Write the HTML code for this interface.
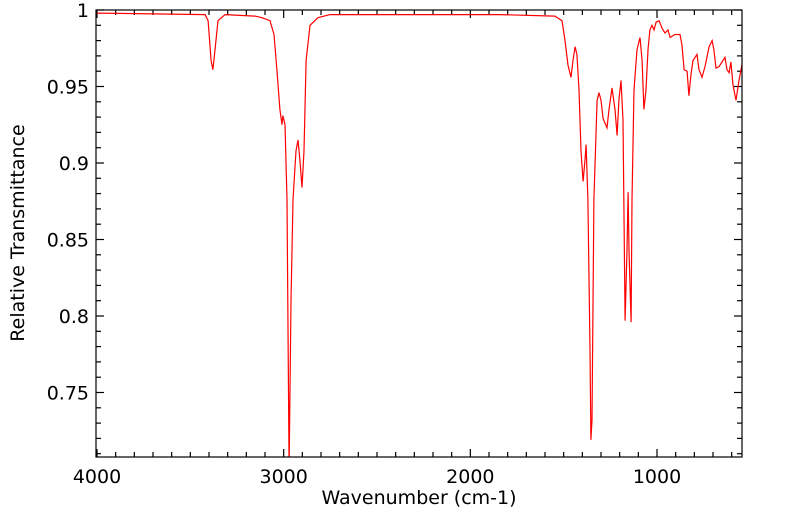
<!DOCTYPE html>
<html><head><meta charset="utf-8"><style>
html,body{margin:0;padding:0;background:#fff;}
svg{display:block;}
text{font-family:"DejaVu Sans","Liberation Sans",sans-serif;fill:#000;}
</style></head><body>
<svg id="chart" width="799" height="516" viewBox="0 0 799 516" xmlns="http://www.w3.org/2000/svg">
<defs><clipPath id="clip"><rect x="96" y="10" width="646" height="447"/></clipPath></defs>
<g id="ticks"></g>
<g id="labels"></g>
<path id="line" clip-path="url(#clip)" fill="none" stroke="#ff0000" stroke-width="1.2"/>
<rect x="96" y="10" width="646" height="447" fill="none" stroke="#000" stroke-width="1.2"/>
<text x="419" y="504" font-size="19" text-anchor="middle">Wavenumber (cm-1)</text>
<text transform="translate(24,233) rotate(-90)" font-size="19" text-anchor="middle">Relative Transmittance</text>
</svg>
<script>
const wavenumbers=[4000,3421,3405,3389,3379,3368,3352,3314,3154,3116,3073,3052,3036,3020,3009,3004,2993,2982,2971,2961,2950,2934,2923,2913,2902,2891,2880,2859,2816,2752,2377,1841,1547,1509,1493,1477,1461,1450,1439,1429,1418,1407,1396,1386,1380,1370,1359,1354,1348,1338,1321,1311,1300,1289,1268,1257,1241,1225,1214,1204,1193,1182,1171,1161,1155,1150,1139,1134,1123,1107,1091,1080,1070,1059,1048,1038,1027,1016,1005,989,973,957,941,930,904,877,866,855,839,829,818,807,786,775,759,743,721,705,695,684,668,652,636,625,614,604,593,577,561,545];
const transmittance=[0.998,0.997,0.993,0.967,0.961,0.974,0.993,0.997,0.996,0.995,0.993,0.984,0.961,0.935,0.925,0.931,0.925,0.876,0.700,0.810,0.876,0.908,0.915,0.902,0.884,0.908,0.967,0.990,0.995,0.997,0.997,0.997,0.996,0.993,0.980,0.964,0.956,0.967,0.976,0.971,0.948,0.908,0.888,0.902,0.912,0.876,0.778,0.719,0.732,0.876,0.941,0.946,0.941,0.929,0.923,0.935,0.949,0.935,0.918,0.941,0.954,0.928,0.797,0.843,0.881,0.843,0.796,0.876,0.948,0.974,0.982,0.967,0.935,0.948,0.974,0.987,0.990,0.987,0.992,0.993,0.988,0.985,0.987,0.982,0.984,0.984,0.977,0.961,0.960,0.944,0.958,0.967,0.971,0.961,0.956,0.963,0.976,0.980,0.974,0.962,0.963,0.966,0.969,0.961,0.959,0.966,0.951,0.941,0.954,0.964];
const xTickLabels=[4000,3000,2000,1000];
const yTickLabels=["0.75","0.8","0.85","0.9","0.95","1"];
const X0=96,X1=742,Y0=10,Y1=457;
const xMin=545,xMax=4000,yMin=0.708,yMax=1;
function sx(v){return 97+(4000-v)*0.18667;}
function sy(v){return 10+(1-v)*1530;}
const NS="http://www.w3.org/2000/svg";
let d="";
for(let i=0;i<wavenumbers.length;i++){d+=(i?"L":"M")+sx(wavenumbers[i]).toFixed(1)+","+sy(transmittance[i]).toFixed(1);}
document.getElementById('line').setAttribute('d',d);
const tg=document.getElementById('ticks'),lg=document.getElementById('labels');
function ln(x1,y1,x2,y2){const l=document.createElementNS(NS,'line');l.setAttribute('x1',x1);l.setAttribute('y1',y1);l.setAttribute('x2',x2);l.setAttribute('y2',y2);l.setAttribute('stroke','#000');l.setAttribute('stroke-width','1.2');


tg.appendChild(l);}
for(let w=4000;w>=xMin;w-=100){const x=sx(w),L=(w%1000===0)?8:5;ln(x,Y1,x,Y1-L);ln(x,Y0,x,Y0+L);}
for(let k=71;k<=100;k++){const v=k/100,y=sy(v),L=(k%5===0)?8:5;ln(X0,y,X0+L,y);ln(X1,y,X1-L,y);}
xTickLabels.forEach(v=>{const t=document.createElementNS(NS,'text');t.setAttribute('x',sx(v));t.setAttribute('y',483);t.setAttribute('font-size','19');t.setAttribute('text-anchor','middle');t.textContent=v;


lg.appendChild(t);});
yTickLabels.forEach(v=>{const t=document.createElementNS(NS,'text');t.setAttribute('x',89);t.setAttribute('y',sy(parseFloat(v))+7);t.setAttribute('font-size','19');t.setAttribute('text-anchor','end');t.textContent=v;


lg.appendChild(t);});
</script>
</body></html>
